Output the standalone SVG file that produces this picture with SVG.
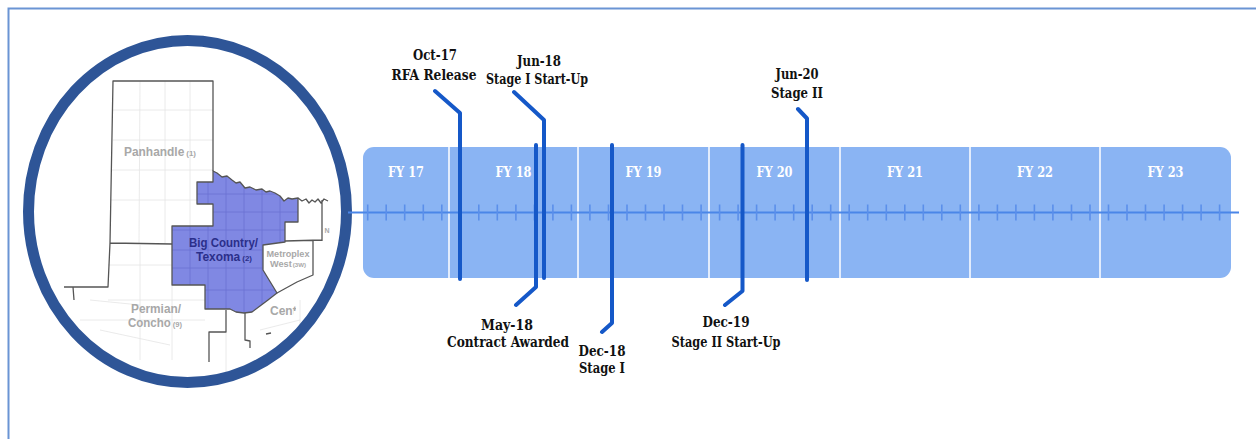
<svg xmlns="http://www.w3.org/2000/svg" width="1256" height="439" viewBox="0 0 1256 439">
<style>
.frame{fill:none;stroke:#6a94d4;stroke-width:2}
.lbl{font-family:"DejaVu Serif","Liberation Serif",serif;font-weight:bold;font-stretch:condensed;font-size:14px;fill:#111;text-anchor:middle}
.fy{font-family:"DejaVu Serif","Liberation Serif",serif;font-weight:bold;font-stretch:condensed;font-size:14px;fill:#fff;text-anchor:middle}
.ev{fill:none;stroke:#1558c8;stroke-width:4;stroke-linecap:round;stroke-linejoin:round}
.tick{stroke:#5b8fea;stroke-width:1.6}
.div{stroke:#fff;stroke-width:1.5}
.border{fill:none;stroke:#555;stroke-width:1.3;stroke-linejoin:round}
.faint{fill:none;stroke:#e4e4e4;stroke-width:0.8}
.county{fill:none;stroke:#6a72d2;stroke-width:0.8}
.mapg{font-family:"Liberation Sans","Open Sans",sans-serif;font-weight:bold;fill:#a8a8a8;text-anchor:middle}
.mapb{font-family:"Liberation Sans","Open Sans",sans-serif;font-weight:bold;fill:#2b2f8a;text-anchor:middle}
</style>
<defs>
<clipPath id="circ"><ellipse cx="187.5" cy="211.5" rx="154" ry="166"/></clipPath>
<clipPath id="bcclip"><path d="M213,171 L217,173 L222,177 L227,176 L232,180 L236,183 L240,182 L245,188 L250,187 L256,190 L262,189 L266,192 L270,191 L275,193 L280,196 L284,201 L288,198 L292,199 L298,198 L298,222 L285,222 L285,242 L263,245 L263,270 L277,293 L268,300 L260,306 L252,312 L244,313 L236,312 L230,309 L205,309 L205,285 L172,285 L172,226 L213,226 L213,204 L197,204 L197,182 L213,182 Z"/></clipPath>
<clipPath id="centclip"><rect x="266" y="300" width="30" height="11"/><rect x="266" y="300" width="27.5" height="20"/></clipPath>
</defs>

<g id="frame">
<path class="frame" d="M8.5,439 L8.5,8.5 L1256,8.5"/>
</g>

<g id="map" clip-path="url(#circ)">
<rect x="20" y="30" width="340" height="370" fill="#fff"/>
<g class="faint">
<path d="M113,110 L213,110 M113,140 L213,140 M112,170 L213,170 M111,200 L213,200 M140,81 L139,243 M165,81 L165,243 M190,81 L190,243"/>
<path d="M108,265 L172,265 M108,300 L205,300 M80,320 L205,320 M140,245 L140,360 M172,285 L172,360 M100,330 L170,345 M90,300 L140,305"/>
<path d="M226,332 L226,380 M260,330 L300,320 M300,300 L300,340"/>
</g>
<path d="M213,171 L217,173 L222,177 L227,176 L232,180 L236,183 L240,182 L245,188 L250,187 L256,190 L262,189 L266,192 L270,191 L275,193 L280,196 L284,201 L288,198 L292,199 L298,198 L298,222 L285,222 L285,242 L263,245 L263,270 L277,293 L268,300 L260,306 L252,312 L244,313 L236,312 L230,309 L205,309 L205,285 L172,285 L172,226 L213,226 L213,204 L197,204 L197,182 L213,182 Z" fill="#8088e3"/>
<g class="county" clip-path="url(#bcclip)">
<path d="M190,170 L190,320 M208,170 L208,320 M226,170 L226,320 M244,170 L244,320 M262,170 L262,320 M280,170 L280,320"/>
<path d="M170,194 L300,194 M170,212 L300,212 M170,230 L300,230 M170,250 L300,250 M170,268 L300,268 M170,290 L300,290"/>
</g>
<path class="border" d="M213,171 L217,173 L222,177 L227,176 L232,180 L236,183 L240,182 L245,188 L250,187 L256,190 L262,189 L266,192 L270,191 L275,193 L280,196 L284,201 L288,198 L292,199 L298,198 L298,222 L285,222 L285,242 L263,245 L263,270 L277,293 L268,300 L260,306 L252,312 L244,313 L236,312 L230,309 L205,309 L205,285 L172,285 L172,226 L213,226 L213,204 L197,204 L197,182 L213,182 Z" stroke="#2e2f6e"/>
<path class="border" d="M213,171 L213,81 L113,81 L110,243 L108,287 L64,287 M73,287 L74,300 M110,243 L172,244"/>
<path class="border" d="M298,198 L302,201 L306,199 L309,203 L312,200 L315,202 L318,199 L321,203 L324,199 L328,201 M322,200 L322,241 M285,241 L322,240 M313,241 L313,275 L297,282 L277,293"/>
<path class="border" d="M209,362 L209,332 L226,332 L226,310 M245,313 L245,340 L250,341 L250,348 M266,334 L271,333"/>
<text class="mapg" x="160" y="156" font-size="12" textLength="72" lengthAdjust="spacingAndGlyphs">Panhandle<tspan font-size="8" dx="2">(1)</tspan></text>
<text class="mapb" x="223.5" y="247" font-size="12" textLength="69" lengthAdjust="spacingAndGlyphs">Big Country/</text>
<text class="mapb" x="224" y="261" font-size="12" textLength="56" lengthAdjust="spacingAndGlyphs">Texoma<tspan font-size="8" dx="2">(2)</tspan></text>
<text class="mapg" x="288" y="256.5" font-size="9" textLength="43" lengthAdjust="spacingAndGlyphs">Metroplex</text>
<text class="mapg" x="288" y="267" font-size="9" textLength="36" lengthAdjust="spacingAndGlyphs">West<tspan font-size="6" dx="1">(3W)</tspan></text>
<text class="mapg" x="156" y="313" font-size="12" textLength="50" lengthAdjust="spacingAndGlyphs">Permian/</text>
<text class="mapg" x="155" y="327" font-size="12" textLength="54" lengthAdjust="spacingAndGlyphs">Concho<tspan font-size="8" dx="2">(9)</tspan></text>
<text class="mapg" x="270" y="315" font-size="12" style="text-anchor:start" clip-path="url(#centclip)">Cent</text>
<text class="mapg" x="327" y="233" font-size="7">N</text>
</g>
<g id="circle">
<ellipse cx="187.5" cy="211.5" rx="159" ry="171" fill="none" stroke="#2e5597" stroke-width="11"/>
</g>

<g id="bar">
<rect x="363" y="147" width="868" height="131" rx="11" fill="#8ab4f3"/>
<line class="div" x1="449" y1="147" x2="449" y2="278"/>
<line class="div" x1="578" y1="147" x2="578" y2="278"/>
<line class="div" x1="709" y1="147" x2="709" y2="278"/>
<line class="div" x1="840" y1="147" x2="840" y2="278"/>
<line class="div" x1="970" y1="147" x2="970" y2="278"/>
<line class="div" x1="1100" y1="147" x2="1100" y2="278"/>
<text class="fy" x="406" y="177" textLength="36" lengthAdjust="spacingAndGlyphs">FY 17</text>
<text class="fy" x="513.5" y="177" textLength="36" lengthAdjust="spacingAndGlyphs">FY 18</text>
<text class="fy" x="643.5" y="177" textLength="36" lengthAdjust="spacingAndGlyphs">FY 19</text>
<text class="fy" x="774.5" y="177" textLength="36" lengthAdjust="spacingAndGlyphs">FY 20</text>
<text class="fy" x="905" y="177" textLength="36" lengthAdjust="spacingAndGlyphs">FY 21</text>
<text class="fy" x="1035" y="177" textLength="36" lengthAdjust="spacingAndGlyphs">FY 22</text>
<text class="fy" x="1165.5" y="177" textLength="36" lengthAdjust="spacingAndGlyphs">FY 23</text>
</g>

<g id="connectors">
<line x1="348" y1="212.5" x2="1239" y2="212.5" stroke="#4a86e8" stroke-width="2"/>
<path class="tick" d="M367.7,204.5v16 M386.2,204.5v16 M404.7,204.5v16 M423.3,204.5v16 M441.8,204.5v16 M460.3,204.5v16 M478.8,204.5v16 M497.3,204.5v16 M515.9,204.5v16 M534.4,204.5v16 M552.9,204.5v16 M571.4,204.5v16 M589.9,204.5v16 M608.5,204.5v16 M627,204.5v16 M645.5,204.5v16 M664,204.5v16 M682.5,204.5v16 M701.1,204.5v16 M719.6,204.5v16 M738.1,204.5v16 M756.6,204.5v16 M775.1,204.5v16 M793.7,204.5v16 M812.2,204.5v16 M830.7,204.5v16 M849.2,204.5v16 M867.7,204.5v16 M886.3,204.5v16 M904.8,204.5v16 M923.3,204.5v16 M941.8,204.5v16 M960.3,204.5v16 M978.9,204.5v16 M997.4,204.5v16 M1015.9,204.5v16 M1034.4,204.5v16 M1052.9,204.5v16 M1071.5,204.5v16 M1090,204.5v16 M1108.5,204.5v16 M1127,204.5v16 M1145.5,204.5v16 M1164.1,204.5v16 M1182.6,204.5v16 M1201.1,204.5v16 M1219.6,204.5v16"/>
<path id="e-oct17" class="ev" d="M435,91 L460,113 L460,279"/>
<path id="e-jun18" class="ev" d="M514,92 L544,120 L544,278"/>
<path id="e-may18" class="ev" d="M536,145 L536,287 L516,305"/>
<path id="e-dec18" class="ev" d="M612,145 L612,323 L602,332"/>
<path id="e-dec19" class="ev" d="M742.5,145 L742.5,291 L725,305"/>
<path id="e-jun20" class="ev" d="M798,109 L807,118.5 L807,280"/>
</g>

<g id="lbl-oct17">
<text class="lbl" x="435" y="60" textLength="44" lengthAdjust="spacingAndGlyphs">Oct-17</text>
<text class="lbl" x="434" y="80" textLength="85" lengthAdjust="spacingAndGlyphs">RFA Release</text>
</g>
<g id="lbl-jun18">
<text class="lbl" x="539" y="65.5" textLength="44" lengthAdjust="spacingAndGlyphs">Jun-18</text>
<text class="lbl" x="537" y="84" textLength="102" lengthAdjust="spacingAndGlyphs">Stage I Start-Up</text>
</g>
<g id="lbl-may18">
<text class="lbl" x="507" y="330" textLength="52" lengthAdjust="spacingAndGlyphs">May-18</text>
<text class="lbl" x="508" y="347" textLength="122" lengthAdjust="spacingAndGlyphs">Contract Awarded</text>
</g>
<g id="lbl-dec18">
<text class="lbl" x="602" y="356" textLength="47" lengthAdjust="spacingAndGlyphs">Dec-18</text>
<text class="lbl" x="602" y="373" textLength="46" lengthAdjust="spacingAndGlyphs">Stage I</text>
</g>
<g id="lbl-dec19">
<text class="lbl" x="726" y="327" textLength="47" lengthAdjust="spacingAndGlyphs">Dec-19</text>
<text class="lbl" x="726" y="347" textLength="109" lengthAdjust="spacingAndGlyphs">Stage II Start-Up</text>
</g>
<g id="lbl-jun20">
<text class="lbl" x="797" y="79" textLength="43" lengthAdjust="spacingAndGlyphs">Jun-20</text>
<text class="lbl" x="797" y="98" textLength="52" lengthAdjust="spacingAndGlyphs">Stage II</text>
</g>
</svg>
